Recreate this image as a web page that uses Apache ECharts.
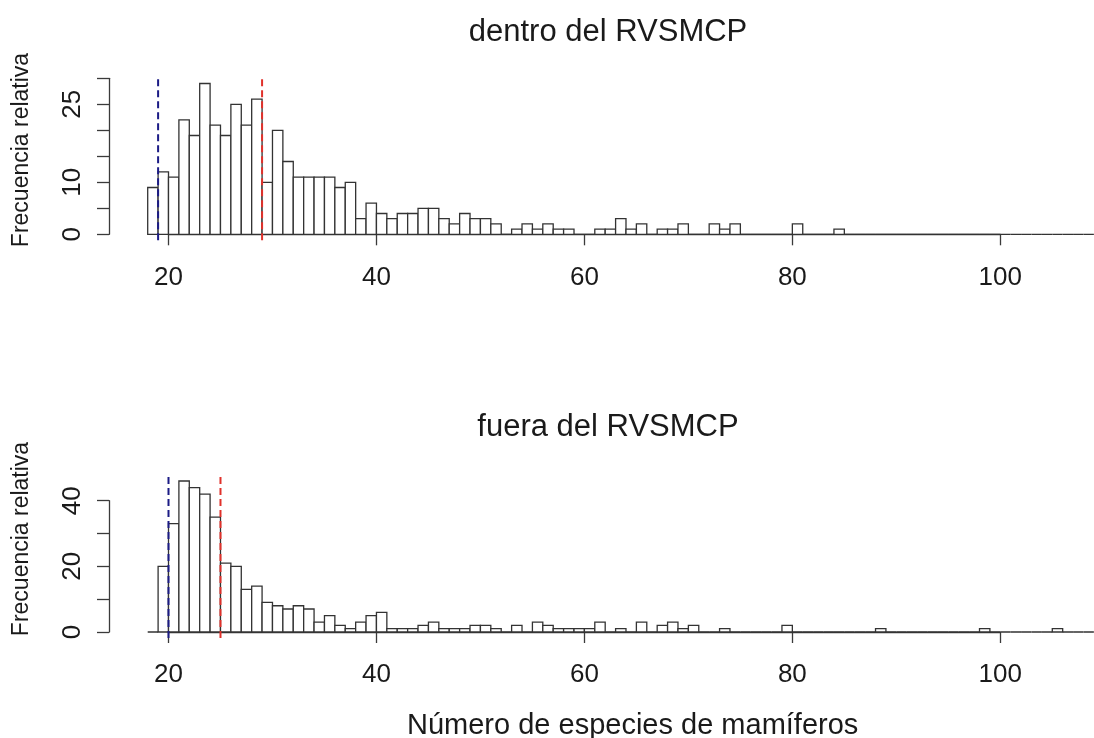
<!DOCTYPE html>
<html>
<head>
<meta charset="utf-8">
<script src="https://cdn.jsdelivr.net/npm/echarts@6/dist/echarts.min.js"></script>
<style>
html,body{margin:0;padding:0;background:#fff;}
#chart{width:1094px;height:738px;}
</style>
</head>
<body>
<div id="chart"></div>
<script>
// Histogram bins (left edge of each 1-unit bin)
const binStarts = [18,19,20,21,22,23,24,25,26,27,28,29,30,31,32,33,34,35,36,37,38,39,40,41,42,43,44,45,46,47,48,49,50,51,52,53,54,55,56,57,58,59,60,61,62,63,64,65,66,67,68,69,70,71,72,73,74,75,76,77,78,79,80,81,82,83,84,85,86,87,88,89,90,91,92,93,94,95,96,97,98,99,100,101,102,103,104,105,106,107,108];
// dentro del RVSMCP
const countsDentro = [9,12,11,22,19,29,21,19,25,21,26,10,20,14,11,11,11,11,9,10,3,6,4,3,4,4,5,5,3,2,4,3,3,2,0,1,2,1,2,1,1,0,0,1,1,3,1,2,0,1,1,2,0,0,2,1,2,0,0,0,0,0,2,0,0,0,1,0,0,0,0,0,0,0,0,0,0,0,0,0,0,0,0,0,0,0,0,0,0,0,0];
// fuera del RVSMCP
const countsFuera = [0,20,33,46,44,42,35,21,20,13,14,9,8,7,8,7,3,5,2,1,3,5,6,1,1,1,2,3,1,1,1,2,2,1,0,2,0,3,2,1,1,1,1,3,0,1,0,3,0,2,3,1,2,0,0,1,0,0,0,0,0,2,0,0,0,0,0,0,0,0,1,0,0,0,0,0,0,0,0,0,1,0,0,0,0,0,0,1,0,0,0];
// reference lines (blue, red)
const linesDentro = [19, 29];
const linesFuera = [20, 25];
const lineColors = ['#1b1b85', '#e0312b'];
const xTickLabels = [20, 40, 60, 80, 100];
const yLabelsDentro = [0, 10, 25];
const yLabelsFuera = [0, 20, 40];

const FONT = "'Liberation Sans', Arial, Helvetica, sans-serif";
const TXT = '#1a1a1a';
const AX = '#3a3a3a';

function histData(counts){ return binStarts.map((s,i)=>[s, s+1, counts[i]]); }

function renderBar(params, api){
  const x0 = api.value(0), x1 = api.value(1), h = api.value(2);
  const p0 = api.coord([x0, h]);
  const p1 = api.coord([x1, 0]);
  return {
    type: 'rect',
    shape: {x: p0[0], y: p0[1], width: p1[0]-p0[0], height: p1[1]-p0[1]},
    style: {fill: '#ffffff', stroke: '#333333', lineWidth: 1.3}
  };
}

function vlines(xs, counts, gi){
  const mx = Math.max(...counts);
  const ext = 0.04*mx;
  return {
    type: 'custom', xAxisIndex: gi, yAxisIndex: gi, clip: false, silent: true, z: 5,
    data: xs.map((x,i)=>[x, -ext, mx+ext, i]),
    encode: {x: 0, y: [1,2]},
    renderItem: function(params, api){
      const x = api.value(0);
      const a = api.coord([x, api.value(1)]);
      const b = api.coord([x, api.value(2)]);
      return {
        type: 'line',
        shape: {x1: a[0], y1: a[1], x2: b[0], y2: b[1]},
        style: {stroke: lineColors[api.value(3)], lineWidth: 2, lineDash: [7,4]}
      };
    }
  };
}

function xAxisDef(gi, offset){
  return {
    type: 'value', gridIndex: gi, min: 20, max: 100, interval: 20, offset: offset,
    axisLine: {show: true, lineStyle: {color: AX, width: 1.3}},
    axisTick: {show: true, length: 11, lineStyle: {color: AX, width: 1.3}},
    splitLine: {show: false},
    axisLabel: {color: TXT, fontSize: 26, fontFamily: FONT, margin: 24,
      formatter: v => xTickLabels.includes(v) ? String(v) : ''}
  };
}

function yAxisDef(gi, max, interval, labels){
  return {
    type: 'value', gridIndex: gi, min: 0, max: max, interval: interval, offset: 59.5,
    axisLine: {show: true, lineStyle: {color: AX, width: 1.3}},
    axisTick: {show: true, length: 12, lineStyle: {color: AX, width: 1.3}},
    splitLine: {show: false},
    axisLabel: {color: TXT, fontSize: 26, fontFamily: FONT, rotate: 90, margin: 23,
      formatter: v => labels.includes(v) ? String(v) : ''}
  };
}

const chart = echarts.init(document.getElementById('chart'), null, {renderer: 'canvas'});
chart.setOption({
  backgroundColor: '#ffffff',
  animation: false,
  grid: [
    {left: 168.5, right: 93.7, top: 78.3, height: 156},
    {left: 168.5, right: 93.7, top: 500.7, height: 131.3}
  ],
  xAxis: [xAxisDef(0, 7), xAxisDef(1, 6.3)],
  yAxis: [yAxisDef(0, 30, 5, yLabelsDentro), yAxisDef(1, 40, 10, yLabelsFuera)],
  graphic: [
    {type: 'text', x: 608, y: 32, style: {text: 'dentro del RVSMCP', font: '31px ' + FONT, fill: TXT, textAlign: 'center', textVerticalAlign: 'middle'}},
    {type: 'text', x: 608, y: 427, style: {text: 'fuera del RVSMCP', font: '31px ' + FONT, fill: TXT, textAlign: 'center', textVerticalAlign: 'middle'}},
    {type: 'text', x: 407, y: 726, style: {text: 'Número de especies de mamíferos', font: '29px ' + FONT, fill: TXT, textAlign: 'left', textVerticalAlign: 'middle'}},
    {type: 'text', x: 22, y: 150, rotation: Math.PI/2, style: {text: 'Frecuencia relativa', font: '23px ' + FONT, fill: TXT, textAlign: 'center', textVerticalAlign: 'middle'}},
    {type: 'text', x: 22, y: 539, rotation: Math.PI/2, style: {text: 'Frecuencia relativa', font: '23px ' + FONT, fill: TXT, textAlign: 'center', textVerticalAlign: 'middle'}}
  ],
  series: [
    {type: 'custom', xAxisIndex: 0, yAxisIndex: 0, renderItem: renderBar, data: histData(countsDentro), clip: false, encode: {x: [0,1], y: 2}},
    {type: 'custom', xAxisIndex: 1, yAxisIndex: 1, renderItem: renderBar, data: histData(countsFuera), clip: false, encode: {x: [0,1], y: 2}},
    vlines(linesDentro, countsDentro, 0),
    vlines(linesFuera, countsFuera, 1)
  ]
});
</script>
</body>
</html>
